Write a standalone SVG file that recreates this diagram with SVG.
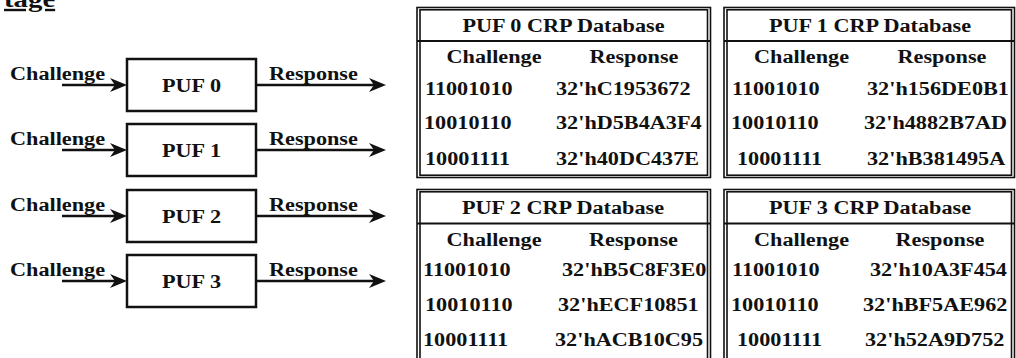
<svg xmlns="http://www.w3.org/2000/svg" width="1016" height="358" viewBox="0 0 1016 358">
<style>
.t{font-family:"Liberation Serif","Times New Roman",serif;font-weight:bold;font-size:19px;fill:#111}
.m{text-anchor:middle}
.box{fill:#fff;stroke:#111;stroke-width:2.5}
.wire{fill:none;stroke:#111;stroke-width:2.5;marker-end:url(#ah)}
.tb{fill:none;stroke:#111;stroke-width:1.6}
.sep{stroke:#111;stroke-width:2.2}
</style>
<defs>
<marker id="ah" markerUnits="userSpaceOnUse" markerWidth="20" markerHeight="16" viewBox="0 -8 20 16" refX="8" refY="0" orient="auto">
<path d="M0,-7 L17,0 L0,7 L5,0 Z" fill="#111"/>
</marker>
<clipPath id="c0"><rect x="420" y="10" width="287" height="165"/></clipPath>
<clipPath id="c1"><rect x="727" y="10" width="284" height="165"/></clipPath>
<clipPath id="c2"><rect x="420" y="192" width="287" height="170"/></clipPath>
<clipPath id="c3"><rect x="727" y="192" width="284" height="170"/></clipPath>
</defs>
<rect width="1016" height="358" fill="#fff"/>
<text class="t" style="font-size:24px;text-decoration:underline" transform="translate(4,7) scale(1.2,1)">tage</text>

<g id="connectors">
<path class="wire" d="M62,85 H118"/>
<path class="wire" d="M257,85 H377"/>
<path class="wire" d="M62,150 H118"/>
<path class="wire" d="M257,150 H377"/>
<path class="wire" d="M62,216 H118"/>
<path class="wire" d="M257,216 H377"/>
<path class="wire" d="M62,281 H118"/>
<path class="wire" d="M257,281 H377"/>
<text class="t" transform="translate(10,80) scale(1.17,1)">Challenge</text>
<text class="t" transform="translate(269,80) scale(1.17,1)">Response</text>
<text class="t" transform="translate(10,145) scale(1.17,1)">Challenge</text>
<text class="t" transform="translate(269,145) scale(1.17,1)">Response</text>
<text class="t" transform="translate(10,211) scale(1.17,1)">Challenge</text>
<text class="t" transform="translate(269,211) scale(1.17,1)">Response</text>
<text class="t" transform="translate(10,276) scale(1.17,1)">Challenge</text>
<text class="t" transform="translate(269,276) scale(1.17,1)">Response</text>
</g>

<g id="puf0">
<rect class="box" x="127" y="59" width="129" height="52"/>
<text class="t m" transform="translate(191.5,92) scale(1.17,1)">PUF 0</text>
</g>
<g id="puf1">
<rect class="box" x="127" y="124" width="129" height="52"/>
<text class="t m" transform="translate(191.5,157) scale(1.17,1)">PUF 1</text>
</g>
<g id="puf2">
<rect class="box" x="127" y="190" width="129" height="52"/>
<text class="t m" transform="translate(191.5,223) scale(1.17,1)">PUF 2</text>
</g>
<g id="puf3">
<rect class="box" x="127" y="255" width="129" height="52"/>
<text class="t m" transform="translate(191.5,288) scale(1.17,1)">PUF 3</text>
</g>

<g id="db0">
<rect class="tb" x="417" y="7.5" width="293.5" height="170"/>
<rect class="tb" x="420" y="9.8" width="287.5" height="165.4"/>
<line class="sep" x1="417" y1="41" x2="710.5" y2="41"/>
<g clip-path="url(#c0)">
<text class="t m" transform="translate(563.5,32) scale(1.17,1)">PUF 0 CRP Database</text>
<text class="t m" transform="translate(494,63) scale(1.17,1)">Challenge</text>
<text class="t m" transform="translate(634,63) scale(1.17,1)">Response</text>
<text class="t" transform="translate(425,95) scale(1.17,1)">11001010</text>
<text class="t" transform="translate(556,95) scale(1.17,1)">32'hC1953672</text>
<text class="t" transform="translate(424,129) scale(1.17,1)">10010110</text>
<text class="t" transform="translate(556,129) scale(1.17,1)">32'hD5B4A3F4</text>
<text class="t" transform="translate(425,165) scale(1.17,1)">10001111</text>
<text class="t" transform="translate(556,165) scale(1.17,1)">32'h40DC437E</text>
</g>
</g>

<g id="db1">
<rect class="tb" x="724" y="7.5" width="290.5" height="170"/>
<rect class="tb" x="727" y="9.8" width="284.5" height="165.4"/>
<line class="sep" x1="724" y1="41" x2="1014.5" y2="41"/>
<g clip-path="url(#c1)">
<text class="t m" transform="translate(870,32) scale(1.17,1)">PUF 1 CRP Database</text>
<text class="t m" transform="translate(801.5,63) scale(1.17,1)">Challenge</text>
<text class="t m" transform="translate(942,63) scale(1.17,1)">Response</text>
<text class="t" transform="translate(732,95) scale(1.17,1)">11001010</text>
<text class="t" transform="translate(867,95) scale(1.17,1)">32'h156DE0B1</text>
<text class="t" transform="translate(731,129) scale(1.17,1)">10010110</text>
<text class="t" transform="translate(864,129) scale(1.17,1)">32'h4882B7AD</text>
<text class="t" transform="translate(737,165) scale(1.17,1)">10001111</text>
<text class="t" transform="translate(867,165) scale(1.17,1)">32'hB381495A</text>
</g>
</g>

<g id="db2">
<rect class="tb" x="417" y="189.5" width="293.5" height="180"/>
<rect class="tb" x="420" y="191.8" width="287.5" height="180"/>
<line class="sep" x1="417" y1="223.5" x2="710.5" y2="223.5"/>
<g clip-path="url(#c2)">
<text class="t m" transform="translate(563,214) scale(1.17,1)">PUF 2 CRP Database</text>
<text class="t m" transform="translate(494,246) scale(1.17,1)">Challenge</text>
<text class="t m" transform="translate(633.5,246) scale(1.17,1)">Response</text>
<text class="t" transform="translate(423,276) scale(1.17,1)">11001010</text>
<text class="t" transform="translate(562,276) scale(1.17,1)">32'hB5C8F3E0</text>
<text class="t" transform="translate(425,311) scale(1.17,1)">10010110</text>
<text class="t" transform="translate(558,311) scale(1.17,1)">32'hECF10851</text>
<text class="t" transform="translate(423,346) scale(1.17,1)">10001111</text>
<text class="t" transform="translate(555,346) scale(1.17,1)">32'hACB10C95</text>
</g>
</g>

<g id="db3">
<rect class="tb" x="724" y="189.5" width="290.5" height="180"/>
<rect class="tb" x="727" y="191.8" width="284.5" height="180"/>
<line class="sep" x1="724" y1="223.5" x2="1014.5" y2="223.5"/>
<g clip-path="url(#c3)">
<text class="t m" transform="translate(870,214) scale(1.17,1)">PUF 3 CRP Database</text>
<text class="t m" transform="translate(801.5,246) scale(1.17,1)">Challenge</text>
<text class="t m" transform="translate(940,246) scale(1.17,1)">Response</text>
<text class="t" transform="translate(732,276) scale(1.17,1)">11001010</text>
<text class="t" transform="translate(870,276) scale(1.17,1)">32'h10A3F454</text>
<text class="t" transform="translate(731,311) scale(1.17,1)">10010110</text>
<text class="t" transform="translate(863,311) scale(1.17,1)">32'hBF5AE962</text>
<text class="t" transform="translate(737,346) scale(1.17,1)">10001111</text>
<text class="t" transform="translate(865,346) scale(1.17,1)">32'h52A9D752</text>
</g>
</g>
</svg>
